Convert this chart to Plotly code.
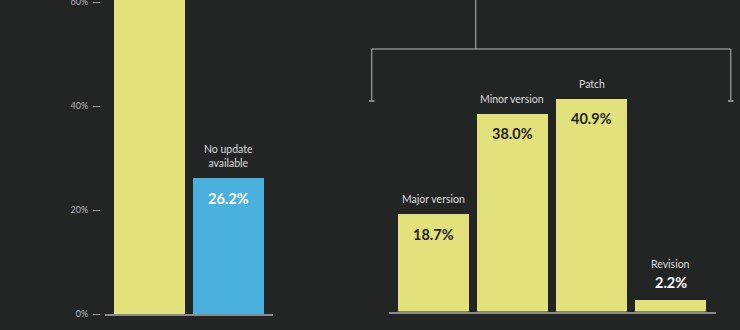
import plotly.graph_objects as go

# Left panel data
left_categories = ["Update available", "No update available"]
left_values = [73.8, 26.2]
left_labels = ["", "No update<br>available"]

# Right panel data (breakdown of available updates)
right_categories = ["Major version", "Minor version", "Patch", "Revision"]
right_values = [18.7, 38.0, 40.9, 2.2]

y_ticks = [0, 20, 40, 60]
y_tick_text = ["0%", "20%", "40%", "60%"]

W, H = 740, 330
BG = "#232525"
YELLOW = "#e3e17c"
BLUE = "#4ab0de"
GREY = "#8a8a8a"
FONT = "Lato, 'Open Sans', sans-serif"

def px(x):
    return x / W

def py(y):
    return 1 - y / H

fig = go.Figure()

fig.add_trace(go.Bar(
    x=left_categories, y=left_values, xaxis="x", yaxis="y",
    marker=dict(color=[YELLOW, BLUE], line=dict(width=0)),
    width=0.9, hoverinfo="skip", showlegend=False,
))
fig.add_trace(go.Bar(
    x=right_categories, y=right_values, xaxis="x2", yaxis="y2",
    marker=dict(color=YELLOW, line=dict(width=0)),
    width=0.9, hoverinfo="skip", showlegend=False,
))

annotations = []
# left labels
for cat, val, lab in zip(left_categories, left_values, left_labels):
    if not lab:
        continue
    annotations.append(dict(x=cat, y=val, xref="x", yref="y", text=lab, showarrow=False,
                            yanchor="bottom", yshift=7, font=dict(size=10.5, color="#dcdcdc", family=FONT)))
    annotations.append(dict(x=cat, y=val, xref="x", yref="y", text=f"<b>{val:.1f}%</b>", showarrow=False,
                            yanchor="middle", yshift=-21, font=dict(size=14.5, color="#ffffff", family=FONT)))

# right labels
for cat, val in zip(right_categories, right_values):
    if val > 10:
        annotations.append(dict(x=cat, y=val, xref="x2", yref="y2", text=cat, showarrow=False,
                                yanchor="middle", yshift=15, font=dict(size=10.5, color="#dcdcdc", family=FONT)))
        annotations.append(dict(x=cat, y=val, xref="x2", yref="y2", text=f"<b>{val:.1f}%</b>", showarrow=False,
                                yanchor="middle", yshift=-20, font=dict(size=14.5, color="#242424", family=FONT)))
    else:
        annotations.append(dict(x=cat, y=val, xref="x2", yref="y2", text=cat, showarrow=False,
                                yanchor="middle", yshift=36, font=dict(size=10.5, color="#dcdcdc", family=FONT)))
        annotations.append(dict(x=cat, y=val, xref="x2", yref="y2", text=f"<b>{val:.1f}%</b>", showarrow=False,
                                yanchor="middle", yshift=18, font=dict(size=14.5, color="#ffffff", family=FONT)))

line = dict(color=GREY, width=1.5)
shapes = [
    # bracket
    dict(type="line", xref="paper", yref="paper", x0=px(475.7), x1=px(475.7), y0=py(-2), y1=py(49), line=line),
    dict(type="line", xref="paper", yref="paper", x0=px(371.7), x1=px(730.7), y0=py(49), y1=py(49), line=line),
    dict(type="line", xref="paper", yref="paper", x0=px(371.7), x1=px(371.7), y0=py(49), y1=py(101), line=line),
    dict(type="line", xref="paper", yref="paper", x0=px(730.7), x1=px(730.7), y0=py(49), y1=py(101), line=line),
    dict(type="line", xref="paper", yref="paper", x0=px(369), x1=px(374.5), y0=py(101), y1=py(101), line=dict(color=GREY, width=2)),
    dict(type="line", xref="paper", yref="paper", x0=px(728), x1=px(733.5), y0=py(101), y1=py(101), line=dict(color=GREY, width=2)),
]

fig.update_layout(
    width=W, height=H,
    margin=dict(l=0, r=0, t=0, b=0, pad=0),
    paper_bgcolor=BG, plot_bgcolor=BG,
    bargap=0, showlegend=False,
    font=dict(family=FONT, color="#dcdcdc"),
    xaxis=dict(domain=[px(105), px(272.7)], range=[-0.566, 1.557], anchor="y", automargin=False,
               showline=True, linecolor=GREY, linewidth=1.5, showgrid=False, zeroline=False,
               showticklabels=False, ticks="", fixedrange=True),
    yaxis=dict(domain=[py(314), 1], range=[0, 314 / 5.2], anchor="free", position=px(100), automargin=False,
               showline=False, showgrid=False, zeroline=False,
               tickvals=y_ticks, ticktext=y_tick_text, ticks="outside", ticklen=7, tickwidth=1,
               tickcolor="#9a9a9a", ticklabelstandoff=3, ticklabeloverflow="allow",
               tickfont=dict(size=9, color="#b5b5b5", family=FONT), fixedrange=True),
    xaxis2=dict(domain=[px(389), px(715.7)], range=[-0.558, 3.568], anchor="y2", automargin=False,
                showline=True, linecolor=GREY, linewidth=1.5, showgrid=False, zeroline=False,
                showticklabels=False, ticks="", fixedrange=True),
    yaxis2=dict(domain=[py(311.5), 1], range=[0, 311.5 / 5.2], anchor="x2", automargin=False,
                visible=False, fixedrange=True),
    annotations=annotations,
    shapes=shapes,
)

fig.write_html("out.html", config={"displayModeBar": False})
